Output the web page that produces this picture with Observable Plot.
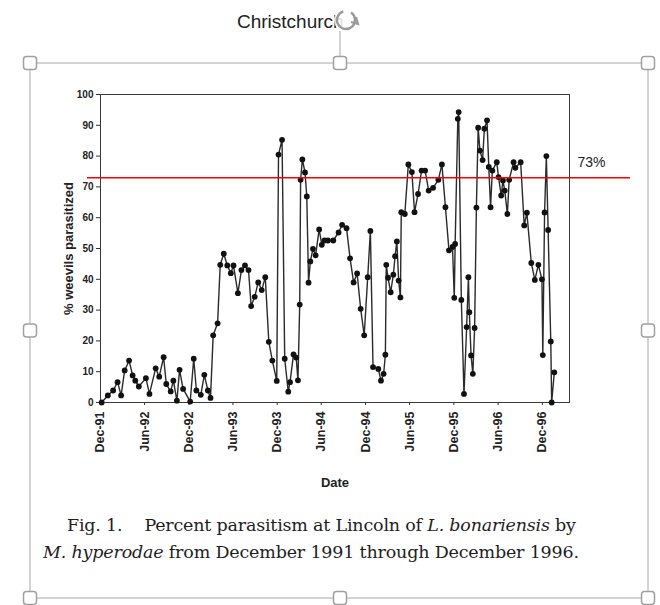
<!DOCTYPE html>
<html><head><meta charset="utf-8">
<script src="https://cdn.jsdelivr.net/npm/d3@7"></script>
<script src="https://cdn.jsdelivr.net/npm/@observablehq/plot@0.6"></script>
<style>
html,body{margin:0;padding:0;background:#fff;}
#chart{width:660px;height:605px;position:relative;overflow:hidden;}
#chart svg{display:block;}
</style></head><body><div id="chart"></div>
<script>
// sampling dates as decimal years
const sampleYears = [
1991.93,1992.00,1992.06,1992.11,1992.15,1992.19,1992.24,1992.28,1992.31,1992.35,
1992.43,1992.47,1992.54,1992.58,1992.63,1992.66,1992.71,1992.74,1992.78,1992.81,
1992.85,1992.93,1992.97,1993.00,1993.05,1993.09,1993.13,1993.16,1993.19,1993.24,
1993.27,1993.31,1993.35,1993.39,1993.42,1993.47,1993.51,1993.55,1993.59,1993.62,
1993.66,1993.70,1993.74,1993.78,1993.82,1993.86,1993.91,1993.93,1993.97,1994.00,
1994.04,1994.06,1994.10,1994.13,1994.15,1994.17,1994.18,1994.20,1994.23,1994.25,
1994.27,1994.29,1994.32,1994.35,1994.39,1994.42,1994.45,1994.49,1994.55,1994.61,
1994.65,1994.70,1994.74,1994.78,1994.82,1994.86,1994.90,1994.94,1994.97,1995.00,
1995.06,1995.09,1995.12,1995.14,1995.15,1995.17,1995.20,1995.23,1995.25,1995.27,
1995.29,1995.31,1995.32,1995.36,1995.40,1995.44,1995.47,1995.51,1995.55,1995.59,
1995.63,1995.68,1995.74,1995.78,1995.82,1995.86,1995.90,1995.92,1995.93,1995.96,
1995.97,1996.00,1996.03,1996.06,1996.08,1996.09,1996.11,1996.13,1996.15,1996.17,
1996.19,1996.21,1996.24,1996.26,1996.29,1996.31,1996.33,1996.35,1996.40,1996.42,
1996.45,1996.47,1996.49,1996.52,1996.54,1996.59,1996.61,1996.67,1996.71,1996.74,
1996.79,1996.83,1996.87,1996.91,1996.92,1996.94,1996.96,1996.98,1997.01,1997.02,
1997.05];
// % weevils parasitized
const parasitized = [
0,2.3,3.9,6.6,2.3,10.4,13.6,8.8,7.1,5.2,
7.9,2.8,11.1,8.4,14.7,6.0,3.6,7.1,0.6,10.6,
4.4,0.3,14.2,3.9,2.5,9.0,3.9,1.5,21.8,25.7,
44.7,48.3,44.5,42.0,44.5,35.5,43.0,44.5,43.0,31.3,
34.3,39.0,36.5,40.7,19.7,13.6,7.0,80.5,85.3,14.2,
3.5,6.6,15.6,14.6,7.2,31.8,72.3,78.9,74.7,66.9,
38.9,45.8,49.9,47.8,56.2,51.2,52.6,52.6,52.6,55.2,
57.7,56.6,46.8,39.0,41.9,30.4,21.8,40.7,55.7,11.5,
10.9,7.1,9.3,15.5,44.7,40.5,35.8,41.5,47.5,52.3,
39.6,34.1,61.8,61.2,77.3,74.8,61.8,67.7,75.3,75.3,
68.8,69.7,72.3,77.3,63.4,49.4,50.5,34.0,51.5,92.1,
94.3,33.3,2.8,24.5,40.7,29.3,15.3,9.3,24.2,63.3,
89.2,81.8,78.7,88.9,91.6,76.5,63.4,75.3,78.0,73.2,
67.2,72.1,68.8,61.2,72.3,78.0,76.2,78.0,57.5,61.6,
45.3,39.8,44.7,40.0,15.4,61.7,80.0,56.0,19.8,0.0,
9.8];
const xTickLabels = ["Dec-91","Jun-92","Dec-92","Jun-93","Dec-93","Jun-94","Dec-94","Jun-95","Dec-95","Jun-96","Dec-96"];
const yTicks = [0,10,20,30,40,50,60,70,80,90,100];
const xDomainYears = [1991.917, 1997.222];
const threshold = 73;
const yLabel = "% weevils parasitized";
const xLabel = "Date";
const docWord = "Christchurch";
const captionLine1 = ["Fig. 1.", "Percent parasitism at Lincoln of ", "L. bonariensis", " by"];
const captionLine2 = ["M. hyperodae", " from December 1991 through December 1996."];

function toDate(t){
  const y = Math.floor(t);
  const a = Date.UTC(y,0,1), b = Date.UTC(y+1,0,1);
  return new Date(a + (t-y)*(b-a));
}
const table = sampleYears.map((t,i)=>({date: toDate(t), value: parasitized[i]}));
const parseTick = d3.utcParse("%b-%y");
const tickDates = xTickLabels.map(parseTick);
const fmt = d3.utcFormat("%b-%y");

const plot = Plot.plot({
  width: 660, height: 605,
  marginLeft: 100, marginRight: 91, marginTop: 94, marginBottom: 203,
  style: {fontFamily: "'Liberation Sans', Arial, sans-serif", background: "transparent", color: "#222"},
  x: {type: "utc", domain: xDomainYears.map(toDate)},
  y: {domain: [0,100]},
  marks: [
    Plot.frame({stroke: "#3a3a3a", strokeWidth: 1}),
    Plot.axisY(yTicks, {tickSize: 4, tickPadding: 3, fontSize: 10, fontWeight: "bold", label: null, stroke: "#333"}),
    Plot.axisX(tickDates, {tickSize: 3, tickPadding: 6, tickRotate: -90, tickFormat: fmt, fontSize: 12.5, fontWeight: "bold", label: null, stroke: "#333"}),
    Plot.text([yLabel], {frameAnchor: "left", textAnchor: "middle", dx: -32, rotate: -90, fontSize: 13, fontWeight: "bold", fill: "#222"}),
    Plot.text([xLabel], {frameAnchor: "bottom", dy: 84, fontSize: 13, fontWeight: "bold", fill: "#222"}),
    Plot.line(table, {x: "date", y: "value", stroke: "#2a2a2a", strokeWidth: 1.4}),
    Plot.dot(table, {x: "date", y: "value", r: 2.9, fill: "#111", stroke: "none"}),
    Plot.ruleY([threshold], {stroke: "red", strokeWidth: 1.5, insetLeft: -13, insetRight: -61}),
    Plot.text([threshold], {y: d => d, text: d => `${d}%`, frameAnchor: "right", dx: 8, dy: -15, textAnchor: "start", fontSize: 14, fill: "#222"})
  ]
});
document.getElementById("chart").appendChild(plot);

// Word-document surroundings: selection frame, handles, caption
const svg = d3.select(plot);
const deco = svg.append("g").attr("class","doc").attr("text-anchor","start");
const frameBox = {x0: 30, y0: 63, x1: 648, y1: 598};
deco.append("rect").attr("x",frameBox.x0).attr("y",frameBox.y0)
  .attr("width",frameBox.x1-frameBox.x0).attr("height",frameBox.y1-frameBox.y0)
  .attr("fill","none").attr("stroke","#a8a8a8").attr("stroke-width",1);
const ym = (frameBox.y0+frameBox.y1)/2;
// rotation handle stem
deco.append("line").attr("x1",340).attr("x2",340).attr("y1",31).attr("y2",frameBox.y0)
  .attr("stroke","#a8a8a8");
const handles = [[frameBox.x0,frameBox.y0],[340,frameBox.y0],[frameBox.x1,frameBox.y0],
  [frameBox.x0,ym],[frameBox.x1,ym],[frameBox.x0,frameBox.y1],[340,frameBox.y1],[frameBox.x1,frameBox.y1]];
deco.selectAll("rect.h").data(handles).join("rect").attr("class","h")
  .attr("x",d=>d[0]-6.5).attr("y",d=>d[1]-6.5).attr("width",13).attr("height",13)
  .attr("rx",3).attr("fill","#fff").attr("stroke","#a0a0a0").attr("stroke-width",1.5);
// document text behind the rotation icon
deco.append("text").attr("x",237).attr("y",28).attr("text-anchor","start")
  .attr("font-family","'Liberation Sans', Arial, sans-serif")
  .attr("font-size",19).attr("fill","#222").text(docWord);
// rotation icon
const rot = deco.append("g").attr("transform","translate(346,20)");
rot.append("circle").attr("r",12).attr("fill","#fff").attr("fill-opacity",0.85).attr("stroke","none");
rot.append("path").attr("d", d3.arc()({innerRadius:9, outerRadius:9, startAngle: 0.6, endAngle: 2*Math.PI - 0.3}))
  .attr("fill","none").attr("stroke","#9a9a9a").attr("stroke-width",2.4);
rot.append("path").attr("d","M5,2 L12,4 L10,-3").attr("fill","none").attr("stroke","#9a9a9a").attr("stroke-width",2.2);
// caption
const cap = deco.append("g").attr("font-family","'DejaVu Serif', 'Liberation Serif', serif")
  .attr("font-size",17.5).attr("fill","#1e1e1e").attr("text-anchor","start");
const t1 = cap.append("text").attr("x",67).attr("y",531)
  .attr("textLength",509).attr("lengthAdjust","spacing");
t1.append("tspan").text(captionLine1[0]);
t1.append("tspan").attr("dx",22).text(captionLine1[1]);
t1.append("tspan").attr("font-style","italic").text(captionLine1[2]);
t1.append("tspan").text(captionLine1[3]);
const t2 = cap.append("text").attr("x",43).attr("y",558)
  .attr("textLength",536).attr("lengthAdjust","spacing");
t2.append("tspan").attr("font-style","italic").text(captionLine2[0]);
t2.append("tspan").text(captionLine2[1]);
</script></body></html>
